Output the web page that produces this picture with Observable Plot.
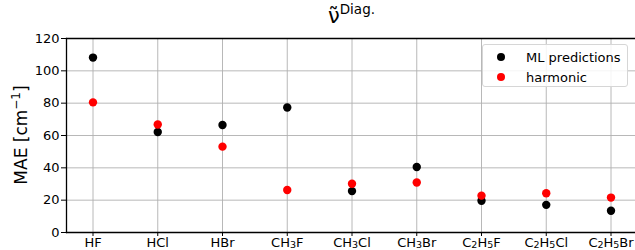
<!DOCTYPE html>
<html><head><meta charset="utf-8">
<script src="https://cdn.jsdelivr.net/npm/d3@7"></script>
<script src="https://cdn.jsdelivr.net/npm/@observablehq/plot@0.6"></script>
<style>
html,body{margin:0;padding:0;background:#fff;}
#wrap{position:relative;width:635px;height:250px;font-family:"DejaVu Sans",sans-serif;overflow:hidden;}
#wrap svg{position:absolute;left:0;top:0;}
.title{position:absolute;top:4px;left:0;width:703px;text-align:center;color:#000;white-space:nowrap;}
.title .nu{font-size:21px;}
.title sup{font-size:13.5px;vertical-align:0;position:relative;top:-9px;}
.ylab{position:absolute;left:21px;top:135px;transform:translate(-50%,-50%) rotate(-90deg);font-size:17px;white-space:nowrap;}
.ylab sup{font-size:12px;vertical-align:0;position:relative;top:-7px;}
.legend{position:absolute;left:482px;top:44px;width:146px;height:43px;border:1px solid #d6d6d6;border-radius:3px;background:rgba(255,255,255,0.85);box-sizing:border-box;font-size:13px;}
.legend .row{position:absolute;left:0;height:18px;display:flex;align-items:center;}
.legend .mk{position:absolute;left:14px;width:8px;height:8px;border-radius:50%;}
.legend .tx{position:absolute;left:43px;white-space:nowrap;}
</style></head>
<body><div id="wrap"></div>
<script>
const molecules = ["HF","HCl","HBr","CH₃F","CH₃Cl","CH₃Br","C₂H₅F","C₂H₅Cl","C₂H₅Br"];
const mlPredictions = [108.2, 62.2, 66.5, 77.3, 25.6, 40.5, 19.6, 17.1, 13.5];
const harmonic = [80.5, 66.8, 53.1, 26.3, 30.2, 30.9, 22.8, 24.3, 21.6];
const seriesNames = ["ML predictions", "harmonic"];
const seriesColors = ["#000000", "#ff0000"];
const yTicks = [0, 20, 40, 60, 80, 100, 120];

const rows = [];
[mlPredictions, harmonic].forEach((vals, s) => {
  vals.forEach((v, i) => rows.push({molecule: molecules[i], value: v, series: seriesNames[s]}));
});

const plot = Plot.plot({
  width: 635, height: 250,
  marginLeft: 66, marginRight: 0, marginTop: 38, marginBottom: 18,
  style: {fontFamily: "DejaVu Sans, sans-serif", fontSize: "13px", color: "#000", background: "transparent"},
  x: {type: "point", domain: molecules, range: [92.5, 610.5], padding: 0, round: false},
  y: {domain: [0, 120], range: [232, 38]},
  color: {domain: seriesNames, range: seriesColors},
  marks: [
    Plot.gridX(molecules, {stroke: "#b0b0b0", strokeOpacity: 1, strokeWidth: 0.9}),
    Plot.gridY(yTicks, {stroke: "#b0b0b0", strokeOpacity: 1, strokeWidth: 0.9}),
    Plot.axisX({ticks: molecules, tickSize: 4, tickPadding: 1, label: null, fontSize: 13}),
    Plot.axisY({ticks: yTicks, tickSize: 5, tickPadding: 2, label: null, fontSize: 13}),
    Plot.frame({anchor: "top", stroke: "#000", strokeWidth: 1.3}),
    Plot.frame({anchor: "left", stroke: "#000", strokeWidth: 1.3}),
    Plot.frame({anchor: "bottom", stroke: "#000", strokeWidth: 1.3}),
    Plot.dot(rows, {x: "molecule", y: "value", fill: "series", r: 4.2})
  ]
});
const wrap = document.getElementById("wrap");
wrap.appendChild(plot);

// render unicode subscripts as real lowered, smaller tspans (like mathtext)
const subMap = {"₀":"0","₁":"1","₂":"2","₃":"3","₄":"4","₅":"5","₆":"6","₇":"7","₈":"8","₉":"9"};
const NS = "http://www.w3.org/2000/svg";
plot.querySelectorAll('g[aria-label="x-axis tick label"] text').forEach(t => {
  const s = t.textContent;
  if (!/[₀-₉]/.test(s)) return;
  while (t.firstChild) t.removeChild(t.firstChild);
  let shifted = false;
  for (const ch of s) {
    const ts = document.createElementNS(NS, "tspan");
    if (subMap[ch]) {
      ts.textContent = subMap[ch];
      ts.setAttribute("font-size", "9.5");
      if (!shifted) { ts.setAttribute("dy", "1.5"); shifted = true; }
    } else {
      ts.textContent = ch;
      if (shifted) { ts.setAttribute("dy", "-1.5"); shifted = false; }
    }
    t.appendChild(ts);
  }
});

const title = document.createElement("div");
title.className = "title";
title.innerHTML = '<span class="nu">ν̃</span><sup>Diag.</sup>';
wrap.appendChild(title);

const ylab = document.createElement("div");
ylab.className = "ylab";
ylab.innerHTML = 'MAE [cm<sup>−1</sup>]';
wrap.appendChild(ylab);

const legend = document.createElement("div");
legend.className = "legend";
seriesNames.forEach((name, i) => {
  const row = document.createElement("div");
  row.className = "row";
  row.style.top = (3 + i * 20) + "px";
  row.innerHTML = `<span class="mk" style="background:${seriesColors[i]}"></span><span class="tx">${name}</span>`;
  legend.appendChild(row);
});
wrap.appendChild(legend);
</script></body></html>
